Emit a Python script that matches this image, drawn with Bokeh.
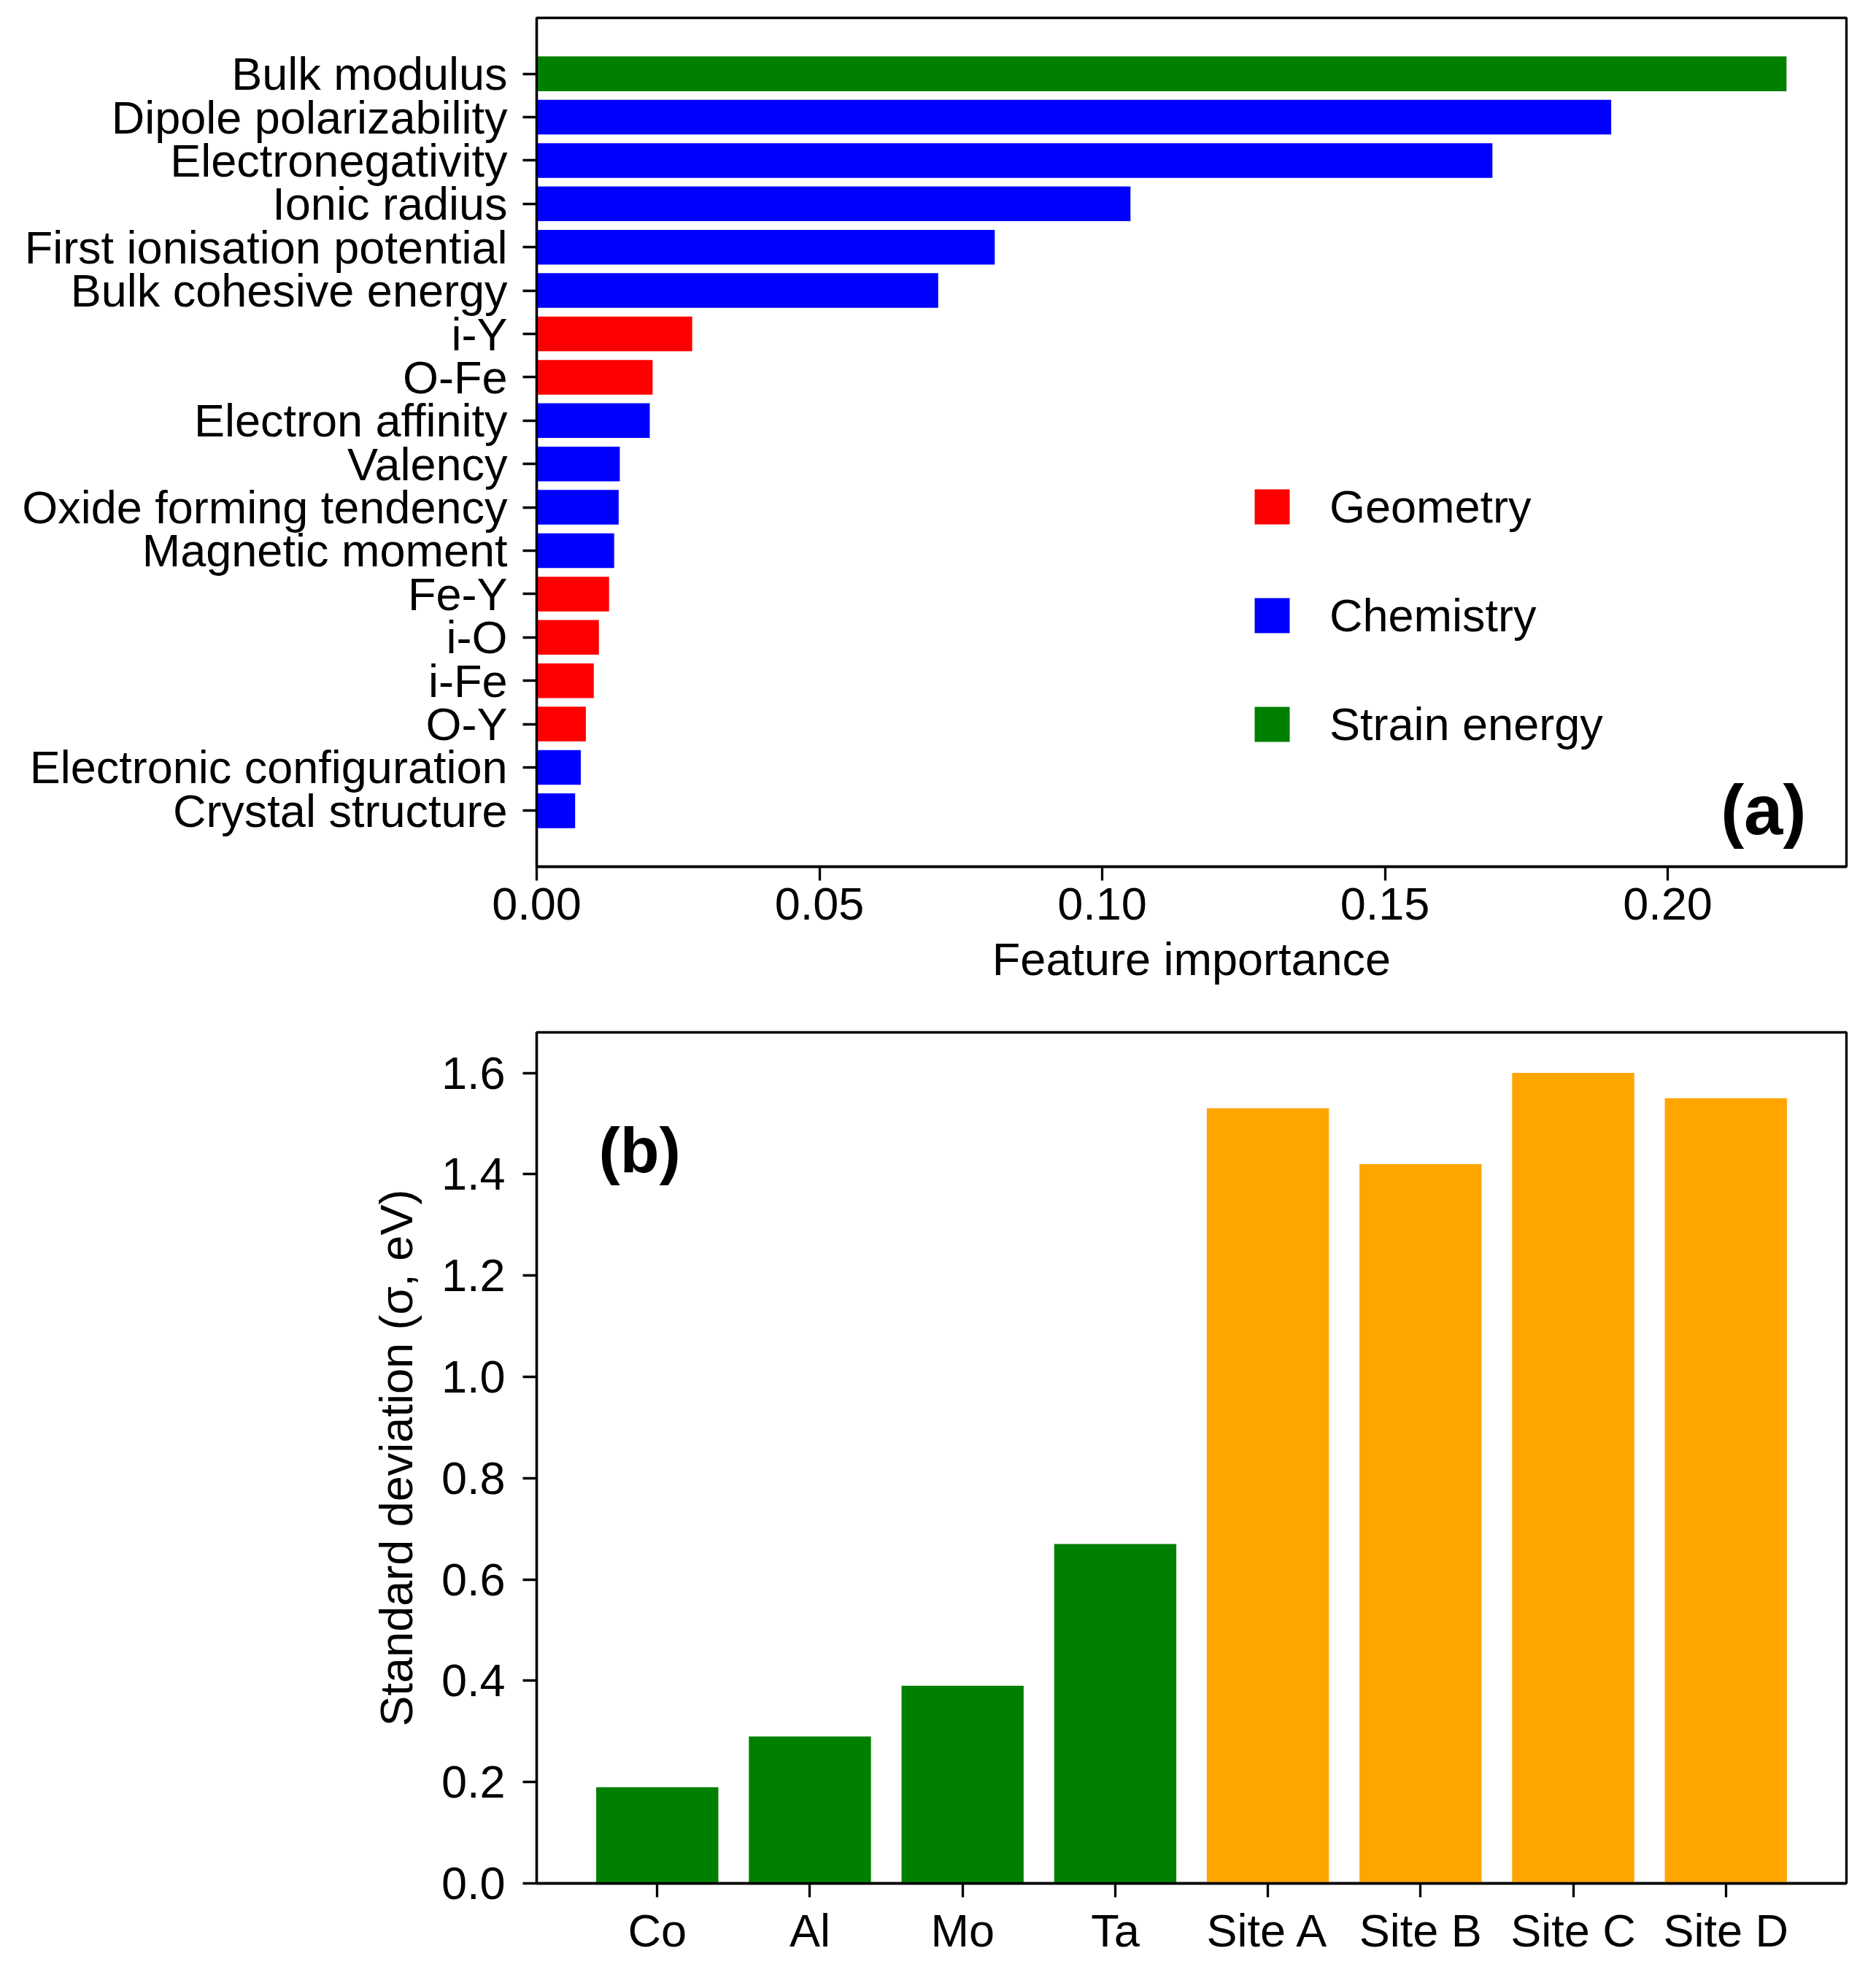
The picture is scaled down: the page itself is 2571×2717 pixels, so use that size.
from bokeh.plotting import figure
from bokeh.models import (Range1d, FixedTicker, NumeralTickFormatter, Legend,
                          LegendItem, Label, ColumnDataSource)
from bokeh.layouts import column
from bokeh.embed import file_html
from bokeh.resources import INLINE

# ---------------- data: panel (a) ----------------
features = [
    "Bulk modulus", "Dipole polarizability", "Electronegativity", "Ionic radius",
    "First ionisation potential", "Bulk cohesive energy", "i-Y", "O-Fe",
    "Electron affinity", "Valency", "Oxide forming tendency", "Magnetic moment",
    "Fe-Y", "i-O", "i-Fe", "O-Y", "Electronic configuration", "Crystal structure",
]
importance = [
    0.221, 0.190, 0.169, 0.105, 0.081, 0.071, 0.0275, 0.0205,
    0.0200, 0.0147, 0.0145, 0.0137, 0.0128, 0.0110, 0.0101, 0.0087,
    0.0078, 0.0068,
]
groups = [
    "Strain energy", "Chemistry", "Chemistry", "Chemistry", "Chemistry", "Chemistry",
    "Geometry", "Geometry", "Chemistry", "Chemistry", "Chemistry", "Chemistry",
    "Geometry", "Geometry", "Geometry", "Geometry", "Chemistry", "Chemistry",
]
legend_order = ["Geometry", "Chemistry", "Strain energy"]
xticks_a = [0.00, 0.05, 0.10, 0.15, 0.20]

# ---------------- data: panel (b) ----------------
elements = ["Co", "Al", "Mo", "Ta", "Site A", "Site B", "Site C", "Site D"]
std_dev = [0.19, 0.29, 0.39, 0.67, 1.53, 1.42, 1.60, 1.55]
kinds = ["element", "element", "element", "element", "site", "site", "site", "site"]
yticks_b = [0.0, 0.2, 0.4, 0.6, 0.8, 1.0, 1.2, 1.4, 1.6]

# ---------------- styles ----------------
FONT = "Liberation Sans"
group_colors = {"Geometry": "#ff0000", "Chemistry": "#0000ff", "Strain energy": "#008000"}
kind_colors = {"element": "#008000", "site": "#ffa500"}
LW = 3.3
FS = "63px"


def style(p):
    p.xgrid.visible = False
    p.ygrid.visible = False
    p.outline_line_color = "black"
    p.outline_line_width = LW
    p.outline_line_alpha = 1.0
    p.background_fill_color = "white"
    p.border_fill_color = "white"
    for ax in p.axis:
        ax.axis_line_color = "black"
        ax.axis_line_width = LW
        ax.major_tick_line_color = "black"
        ax.major_tick_line_width = LW
        ax.major_tick_out = 19
        ax.major_tick_in = 0
        ax.minor_tick_out = 0
        ax.minor_tick_in = 0
        ax.major_label_text_font = FONT
        ax.major_label_text_font_size = FS
        ax.major_label_text_color = "black"
        ax.axis_label_text_font = FONT
        ax.axis_label_text_font_size = FS
        ax.axis_label_text_font_style = "normal"
        ax.axis_label_text_color = "black"


# ---------------- panel (a) ----------------
n = len(features)
ypos = [n - 1 - i for i in range(n)]
src_a = ColumnDataSource(dict(
    y=ypos, imp=importance, grp=groups,
    color=[group_colors[g] for g in groups],
))

pa = figure(width=2555, height=1382,
            x_range=Range1d(0, 0.2316), y_range=Range1d(-1.29, 18.29),
            output_backend="svg", toolbar_location=None,
            min_border_left=735, min_border_right=25,
            min_border_top=24, min_border_bottom=195)
r_a = pa.hbar(y="y", right="imp", left=0, height=0.8, source=src_a,
              fill_color="color", line_color=None)
style(pa)
pa.xaxis.ticker = FixedTicker(ticks=xticks_a)
pa.xaxis.formatter = NumeralTickFormatter(format="0.00")
pa.xaxis.major_label_standoff = 10
pa.xaxis.axis_label = "Feature importance"
pa.xaxis.axis_label_standoff = 16
pa.yaxis.ticker = FixedTicker(ticks=ypos)
pa.yaxis.major_label_overrides = {y: f for y, f in zip(ypos, features)}
pa.yaxis.major_label_standoff = 21

items = [LegendItem(label=g, renderers=[r_a], index=groups.index(g)) for g in legend_order]
legend = Legend(items=items, location=(978, 159),
                glyph_width=60, glyph_height=60, label_height=60,
                label_standoff=49, spacing=77, padding=0, margin=0,
                border_line_color=None, background_fill_alpha=0,
                label_text_font=FONT, label_text_font_size=FS,
                label_text_color="black")
pa.add_layout(legend)

pa.add_layout(Label(x=0.2245, y=0.02, text="(a)", text_align="right",
                    text_baseline="alphabetic", text_font=FONT,
                    text_font_size="96px", text_font_style="bold",
                    text_color="black"))

# ---------------- panel (b) ----------------
xpos = list(range(len(elements)))
src_b = ColumnDataSource(dict(
    x=xpos, sd=std_dev, color=[kind_colors[k] for k in kinds],
))
pb = figure(width=2555, height=1319,
            x_range=Range1d(-0.79, 7.79), y_range=Range1d(0, 1.68),
            output_backend="svg", toolbar_location=None,
            min_border_left=735, min_border_right=25,
            min_border_top=32, min_border_bottom=121)
pb.vbar(x="x", top="sd", bottom=0, width=0.8, source=src_b,
        fill_color="color", line_color=None)
style(pb)
pb.xaxis.ticker = FixedTicker(ticks=xpos)
pb.xaxis.major_label_overrides = {x: e for x, e in zip(xpos, elements)}
pb.xaxis.major_label_standoff = 10
pb.yaxis.ticker = FixedTicker(ticks=yticks_b)
pb.yaxis.formatter = NumeralTickFormatter(format="0.0")
pb.yaxis.major_label_standoff = 24
pb.yaxis.axis_label = "Standard deviation (σ, eV)"
pb.yaxis.axis_label_standoff = 24

pb.add_layout(Label(x=-0.384, y=1.448, text="(b)", text_align="left",
                    text_baseline="alphabetic", text_font=FONT,
                    text_font_size="88px", text_font_style="bold",
                    text_color="black"))

layout = column(pa, pb, spacing=0)
open("out.html", "w").write(file_html(layout, INLINE))
